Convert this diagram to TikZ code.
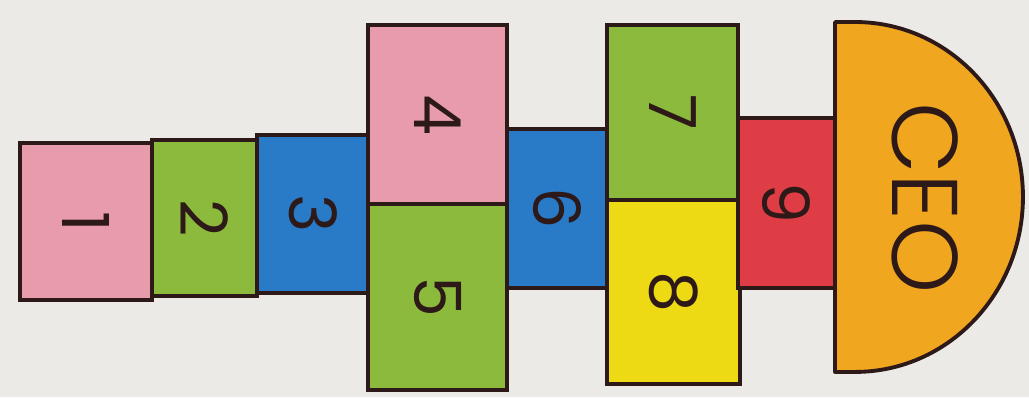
\documentclass[tikz,border=0pt]{standalone}
\usepackage{fontspec}
\setmainfont{Poppins}
\newfontfamily\headfont{Poppins Light}
\usepackage{xcolor}
\definecolor{paper}{rgb}{0.925, 0.918, 0.902}
\definecolor{inkline}{rgb}{0.18, 0.1, 0.1}
\definecolor{chalkpink}{rgb}{0.91, 0.61, 0.67}
\definecolor{chalkgreen}{rgb}{0.55, 0.73, 0.24}
\definecolor{chalkblue}{rgb}{0.16, 0.48, 0.78}
\definecolor{chalkyellow}{rgb}{0.93, 0.85, 0.08}
\definecolor{chalkred}{rgb}{0.87, 0.24, 0.27}
\definecolor{chalkorange}{rgb}{0.94, 0.65, 0.12}
\usepackage{tikz}
\usetikzlibrary{positioning}
\tikzset{
  cell/.style={rectangle,draw=inkline,line width=2.2pt,rotate=-90,text=inkline,font=\fontsize{37}{37}\selectfont,inner sep=0pt},
  pinkcell/.style={cell,fill=chalkpink},
  greencell/.style={cell,fill=chalkgreen},
  bluecell/.style={cell,fill=chalkblue},
  yellowcell/.style={cell,fill=chalkyellow},
  redcell/.style={cell,fill=chalkred},
  headcell/.style={draw=inkline,line width=2.2pt,fill=chalkorange,line join=round}
}

\begin{document}
\begin{tikzpicture}[x=0.02cm,y=-0.02cm]
  % paper
  \fill[paper] (0,0) rectangle (1029,397);

  % Start row
  \node[pinkcell,minimum width=3.14cm,minimum height=2.64cm] (c1) at (86,221.5) {1};
  \node[greencell,minimum width=3.12cm,minimum height=2.10cm] (c2) at (204.5,218) {2};
  \node[bluecell,minimum width=3.16cm,minimum height=2.26cm] (c3) at (313.5,214) {3};

  % First pair
  \node[pinkcell,minimum width=3.58cm,minimum height=2.78cm] (c4) at (437.5,114.5) {4};
  \node[greencell,minimum width=3.72cm,minimum height=2.78cm] (c5) at (437.5,297) {5};

  % Middle single
  \node[bluecell,minimum width=3.18cm,minimum height=2.00cm] (c6) at (557,208.5) {6};

  % Second pair
  \node[greencell,minimum width=3.50cm,minimum height=2.62cm] (c7) at (672.5,112.5) {7};
  \node[yellowcell,minimum width=3.68cm,minimum height=2.66cm] (c8) at (673.5,292) {8};

  % Last single
  \node[redcell,minimum width=3.40cm,minimum height=1.94cm] (c9) at (786.5,203) {9};

  % Head (half disc)
  \draw[headcell] (835,22) -- (855,22)
    arc[start angle=90,end angle=-90,x radius=3.36cm,y radius=3.5cm]
    -- (835,372) -- cycle;
  \node[rotate=-90,text=inkline,font=\headfont\fontsize{53}{53}\selectfont] (ceo) at (925,198) {CEO};
\end{tikzpicture}
\end{document}
